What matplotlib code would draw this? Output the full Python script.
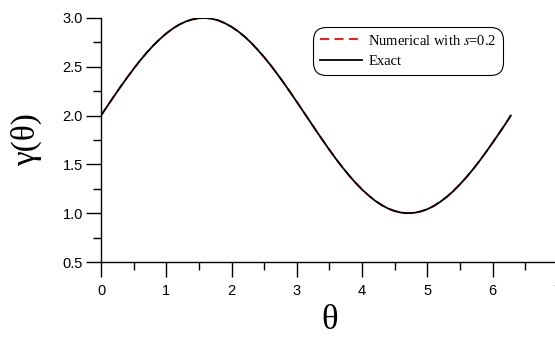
import numpy as np
import matplotlib.pyplot as plt
from matplotlib.ticker import MultipleLocator

# values
theta = [0.0, 0.1, 0.2, 0.3, 0.4, 0.5, 0.6, 0.7, 0.8, 0.9,
         1.0, 1.1, 1.2, 1.3, 1.4, 1.5, 1.6, 1.7, 1.8, 1.9,
         2.0, 2.1, 2.2, 2.3, 2.4, 2.5, 2.6, 2.7, 2.8, 2.9,
         3.0, 3.1, 3.2, 3.3, 3.4, 3.5, 3.6, 3.7, 3.8, 3.9,
         4.0, 4.1, 4.2, 4.3, 4.4, 4.5, 4.6, 4.7, 4.8, 4.9,
         5.0, 5.1, 5.2, 5.3, 5.4, 5.5, 5.6, 5.7, 5.8, 5.9,
         6.0, 6.1, 6.2, 6.28]
gamma_exact = [2.000, 2.100, 2.199, 2.296, 2.389, 2.479, 2.565, 2.644, 2.717, 2.783,
               2.841, 2.891, 2.932, 2.964, 2.985, 2.997, 3.000, 2.992, 2.974, 2.946,
               2.909, 2.863, 2.809, 2.746, 2.675, 2.598, 2.516, 2.427, 2.335, 2.239,
               2.141, 2.042, 1.942, 1.842, 1.745, 1.649, 1.557, 1.470, 1.388, 1.312,
               1.243, 1.182, 1.128, 1.084, 1.048, 1.022, 1.006, 1.000, 1.004, 1.018,
               1.041, 1.074, 1.117, 1.168, 1.227, 1.295, 1.369, 1.449, 1.535, 1.626,
               1.721, 1.818, 1.917, 2.000]
gamma_num = [2.002, 2.101, 2.200, 2.297, 2.390, 2.480, 2.566, 2.645, 2.718, 2.784,
             2.842, 2.892, 2.933, 2.965, 2.986, 2.998, 3.000, 2.993, 2.975, 2.947,
             2.910, 2.864, 2.810, 2.747, 2.676, 2.599, 2.517, 2.428, 2.336, 2.240,
             2.142, 2.043, 1.943, 1.843, 1.746, 1.650, 1.558, 1.471, 1.389, 1.313,
             1.244, 1.183, 1.129, 1.085, 1.049, 1.023, 1.007, 1.001, 1.005, 1.019,
             1.042, 1.075, 1.118, 1.169, 1.228, 1.296, 1.370, 1.450, 1.536, 1.627,
             1.722, 1.819, 1.918, 2.001]

plt.rcParams['mathtext.fontset'] = 'stix'

fig = plt.figure(figsize=(5.55, 3.39), dpi=100)
ax = fig.add_axes([0.182, 0.227, 0.823, 0.72])

ax.plot(theta, gamma_num, color='red', linestyle=(0, (5, 3)), linewidth=1.3,
        label='Numerical with $s$=0.2')
ax.plot(theta, gamma_exact, color='black', linewidth=1.3, label='Exact')

ax.set_xlim(0, 7)
ax.set_ylim(0.5, 3.0)
ax.xaxis.set_major_locator(MultipleLocator(1))
ax.xaxis.set_minor_locator(MultipleLocator(0.5))
ax.yaxis.set_major_locator(MultipleLocator(0.5))
ax.yaxis.set_minor_locator(MultipleLocator(0.25))
ax.spines['top'].set_visible(False)
ax.spines['right'].set_visible(False)
for s in ['left', 'bottom']:
    ax.spines[s].set_linewidth(1.0)

ax.tick_params(which='major', direction='out', length=11, width=1.0, labelsize=10.5,
               pad=2, colors='black')
ax.tick_params(which='minor', direction='out', length=6, width=1.0)
ax.tick_params(axis='x', which='major', pad=5)
for lab in ax.get_xticklabels() + ax.get_yticklabels():
    lab.set_fontfamily('Liberation Sans')

ax.set_xlabel('θ', fontfamily='Liberation Serif', fontsize=25, labelpad=4)
ax.set_ylabel('γ(θ)', fontfamily='Liberation Serif', fontsize=24, labelpad=15)

leg = ax.legend(loc='upper left', bbox_to_anchor=(313 / 555, 1 - 27 / 339),
                bbox_transform=fig.transFigure, prop={'family': 'Liberation Serif', 'size': 10.5},
                frameon=True, fancybox=True, handlelength=2.9, borderpad=0.45,
                labelspacing=0.5, handletextpad=0.45, borderaxespad=0, framealpha=1)
leg.get_frame().set_edgecolor('black')
leg.get_frame().set_linewidth(0.8)
leg.get_frame().set_boxstyle('round', pad=0, rounding_size=0.9)

fig.savefig('out.png', dpi=100)
